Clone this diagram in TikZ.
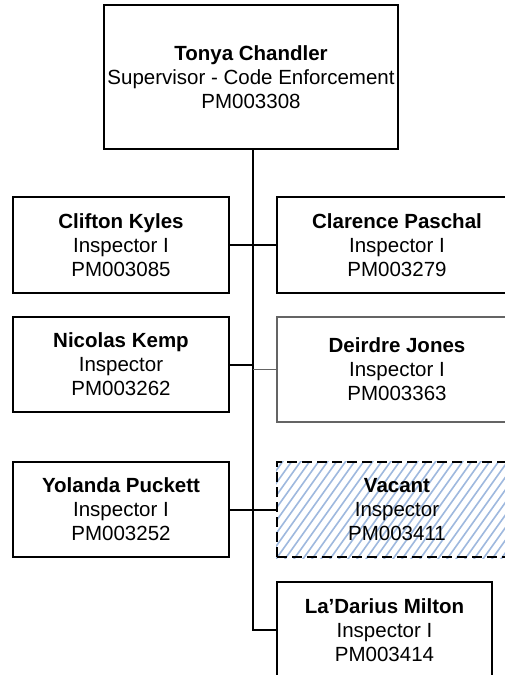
\documentclass[tikz,border=0pt]{standalone}
\usepackage{fontspec}
\setmainfont{Liberation Sans}
\usetikzlibrary{backgrounds}
\definecolor{hatchblue}{RGB}{158,184,222}
\definecolor{softgray}{RGB}{100,100,100}
\tikzset{
  person/.style={draw=black, line width=2pt, align=center, inner sep=0pt,
    font=\fontsize{20.5}{24}\selectfont},
  lightperson/.style={person, draw=softgray, line width=1.3pt},
  vacantbox/.style={person, dash pattern=on 10pt off 5pt},
  link/.style={draw=black, line width=2pt},
  lightlink/.style={draw=softgray, line width=1.3pt},
  hatch/.style={draw=hatchblue, line width=1.6pt}
}
\begin{document}
\begin{tikzpicture}[x=1pt,y=-1pt]
\useasboundingbox (0,0) rectangle (504,675);
\node[person, minimum width=294pt, minimum height=144pt] (top) at (251,77)
  {\textbf{Tonya Chandler}\\Supervisor - Code Enforcement\\PM003308};
\node[person, minimum width=216pt, minimum height=96pt] (clifton) at (121,245)
  {\textbf{Clifton Kyles}\\Inspector I\\PM003085};
\node[person, minimum width=240pt, minimum height=96pt] (clarence) at (397,245)
  {\textbf{Clarence Paschal}\\Inspector I\\PM003279};
\node[person, minimum width=216pt, minimum height=95pt] (nicolas) at (121,364.5)
  {\textbf{Nicolas Kemp}\\Inspector\\PM003262};
\node[lightperson, minimum width=240pt, minimum height=105pt] (deirdre) at (397,369.5)
  {\textbf{Deirdre Jones}\\Inspector I\\PM003363};
\node[person, minimum width=216pt, minimum height=95pt] (yolanda) at (121,509.5)
  {\textbf{Yolanda Puckett}\\Inspector I\\PM003252};
\node[vacantbox, minimum width=240pt, minimum height=95pt] (vacant) at (397,509.5)
  {\textbf{Vacant}\\Inspector\\PM003411};
\node[person, minimum width=215pt, minimum height=96pt] (ladarius) at (384.5,630)
  {\textbf{La'Darius Milton}\\Inspector I\\PM003414};
\begin{scope}[on background layer]
  \clip (vacant.south west) rectangle (vacant.north east);
  \foreach \i in {180,189,...,600}
    \draw[hatch] (\i,580) -- (\i+100,440);
\end{scope}
\coordinate (spinetop) at (253,149);
\coordinate (spineend) at (253,630);
\path[link] (spinetop) -- (spineend) -- (ladarius.west);
\path[link] (clifton.east) -- (clarence.west);
\path[link] (nicolas.east) -- (nicolas.east -| spinetop);
\path[lightlink] (deirdre.west -| spinetop) -- (deirdre.west);
\path[link] (yolanda.east) -- (vacant.west);
\end{tikzpicture}
\end{document}
